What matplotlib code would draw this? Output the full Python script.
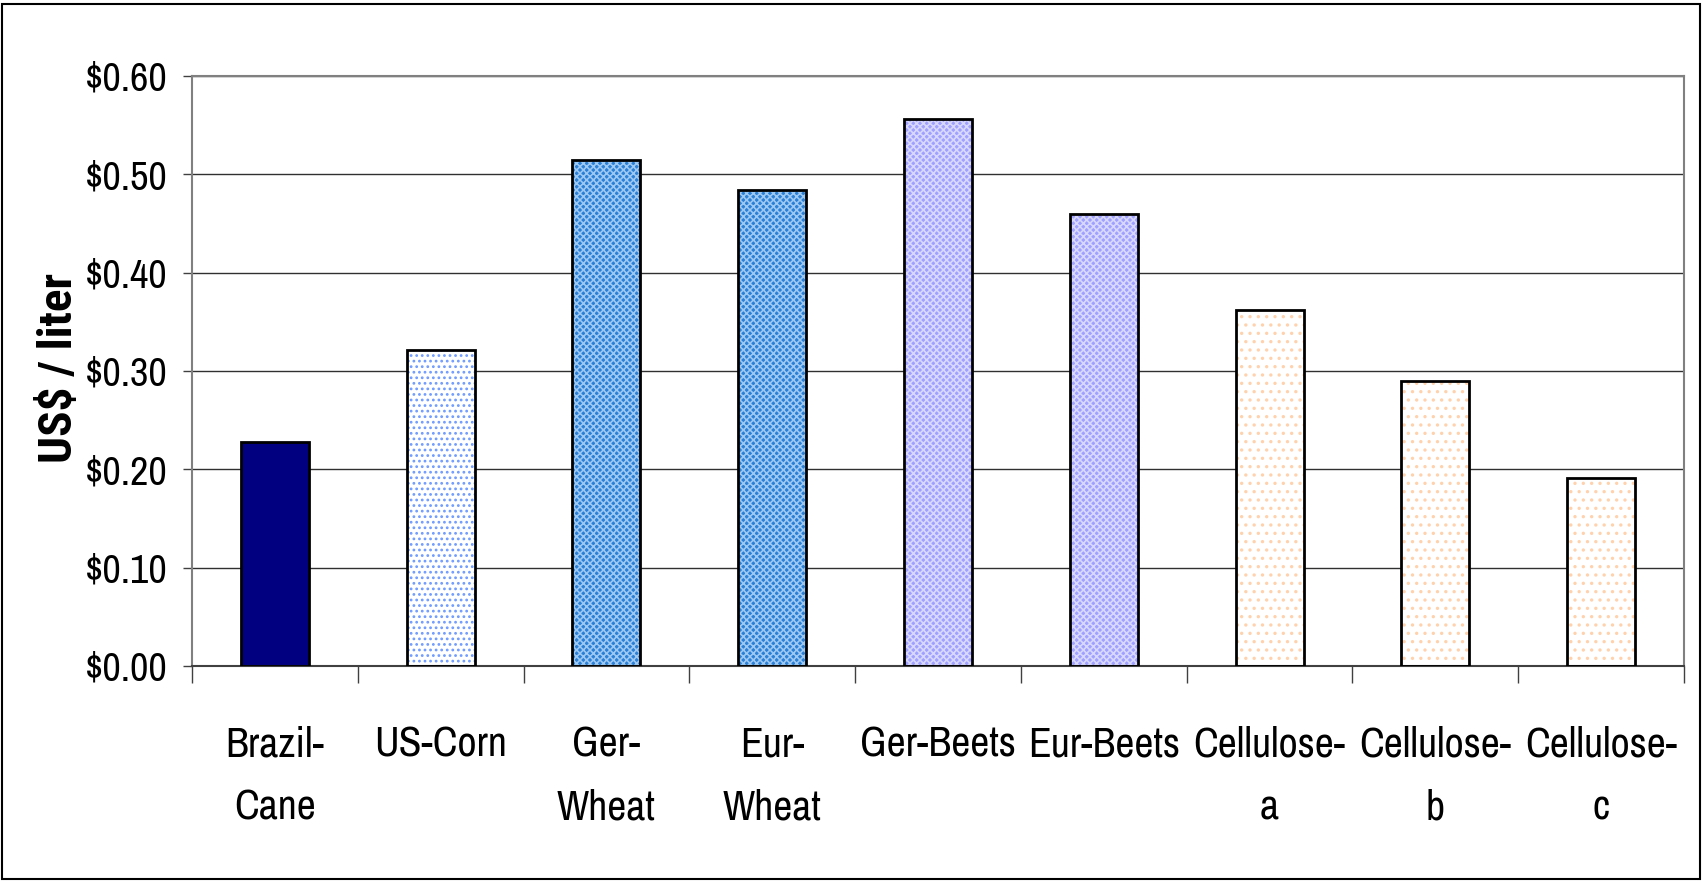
import matplotlib
matplotlib.use("Agg")
import matplotlib.pyplot as plt
from matplotlib.patches import Rectangle
from matplotlib.ticker import FixedLocator, NullFormatter

categories = ["Brazil-\nCane", "US-Corn", "Ger-\nWheat", "Eur-\nWheat", "Ger-Beets",
              "Eur-Beets", "Cellulose-\na", "Cellulose-\nb", "Cellulose-\nc"]
costs = [0.228, 0.321, 0.515, 0.484, 0.556, 0.460, 0.362, 0.290, 0.191]
y_ticks = [0.0, 0.1, 0.2, 0.3, 0.4, 0.5, 0.6]
y_tick_labels = ["$0.00", "$0.10", "$0.20", "$0.30", "$0.40", "$0.50", "$0.60"]

# fill colour, hatch colour, hatch pattern for each bar
fills = ["#000080", "white", "#2a7fd6", "#2a7fd6", "#a0a0ff",
         "#a0a0ff", "white", "white", "white"]
hatch_colors = ["#000080", "#6f9bff", "#9cc8f2", "#9cc8f2", "#d8d8ff",
                "#d8d8ff", "#ffd2ad", "#ffd2ad", "#ffd2ad"]
hatches = [None, "...", "xxxxx", "xxxxx", "xxxxx", "xxxxx", "..", "..", ".."]

plt.rcParams["font.family"] = ["Archivo Narrow", "DejaVu Sans"]
plt.rcParams["hatch.linewidth"] = 1.2

W, H, DPI = 1703, 882, 100
fig = plt.figure(figsize=(W / DPI, H / DPI), dpi=DPI)
fig.patch.set_facecolor("white")

# outer border round the chart
fig.patches.append(Rectangle((2 / W, 3 / H), 1 - 5 / W, 1 - 7 / H,
                             transform=fig.transFigure, fill=False,
                             edgecolor="black", linewidth=1.5))

ax = fig.add_axes([192 / W, 1 - 666 / H, (1684 - 192) / W, (666 - 76) / H])
x = list(range(len(categories)))
bar_w = 0.41

for xi, val, fc, hc, ht in zip(x, costs, fills, hatch_colors, hatches):
    ax.bar(xi, val, width=bar_w, color=fc, edgecolor=hc, hatch=ht,
           linewidth=0, zorder=2)
    ax.bar(xi, val, width=bar_w, fill=False, edgecolor="black",
           linewidth=2, zorder=3)

ax.set_xlim(-0.5, len(categories) - 0.5)
ax.set_ylim(0, 0.6)

ax.yaxis.set_major_locator(FixedLocator(y_ticks))
ax.set_yticklabels(y_tick_labels)
ax.grid(axis="y", color="#303030", linewidth=1, zorder=0)

ax.set_xticks(x)
ax.set_xticklabels(categories, linespacing=1.8)
ax.xaxis.set_minor_locator(FixedLocator([i - 0.5 for i in range(len(categories) + 1)]))
ax.xaxis.set_minor_formatter(NullFormatter())
ax.tick_params(axis="x", which="major", length=0, pad=43, labelsize=30)
ax.tick_params(axis="x", which="minor", length=12, width=1, color="#404040", direction="out")
ax.tick_params(axis="y", length=6.5, width=1, color="#404040", pad=11, labelsize=29)

for side in ["top", "right", "left", "bottom"]:
    ax.spines[side].set_color("#808080")
    ax.spines[side].set_linewidth(1.5)
ax.spines["bottom"].set_color("#404040")

fig.text(59 / W, 1 - 368 / H, "US$ / liter", rotation=90, ha="center", va="center",
         fontsize=34, fontweight="bold", family=["Roboto Condensed", "DejaVu Sans"])

fig.savefig("out.png", dpi=DPI)
